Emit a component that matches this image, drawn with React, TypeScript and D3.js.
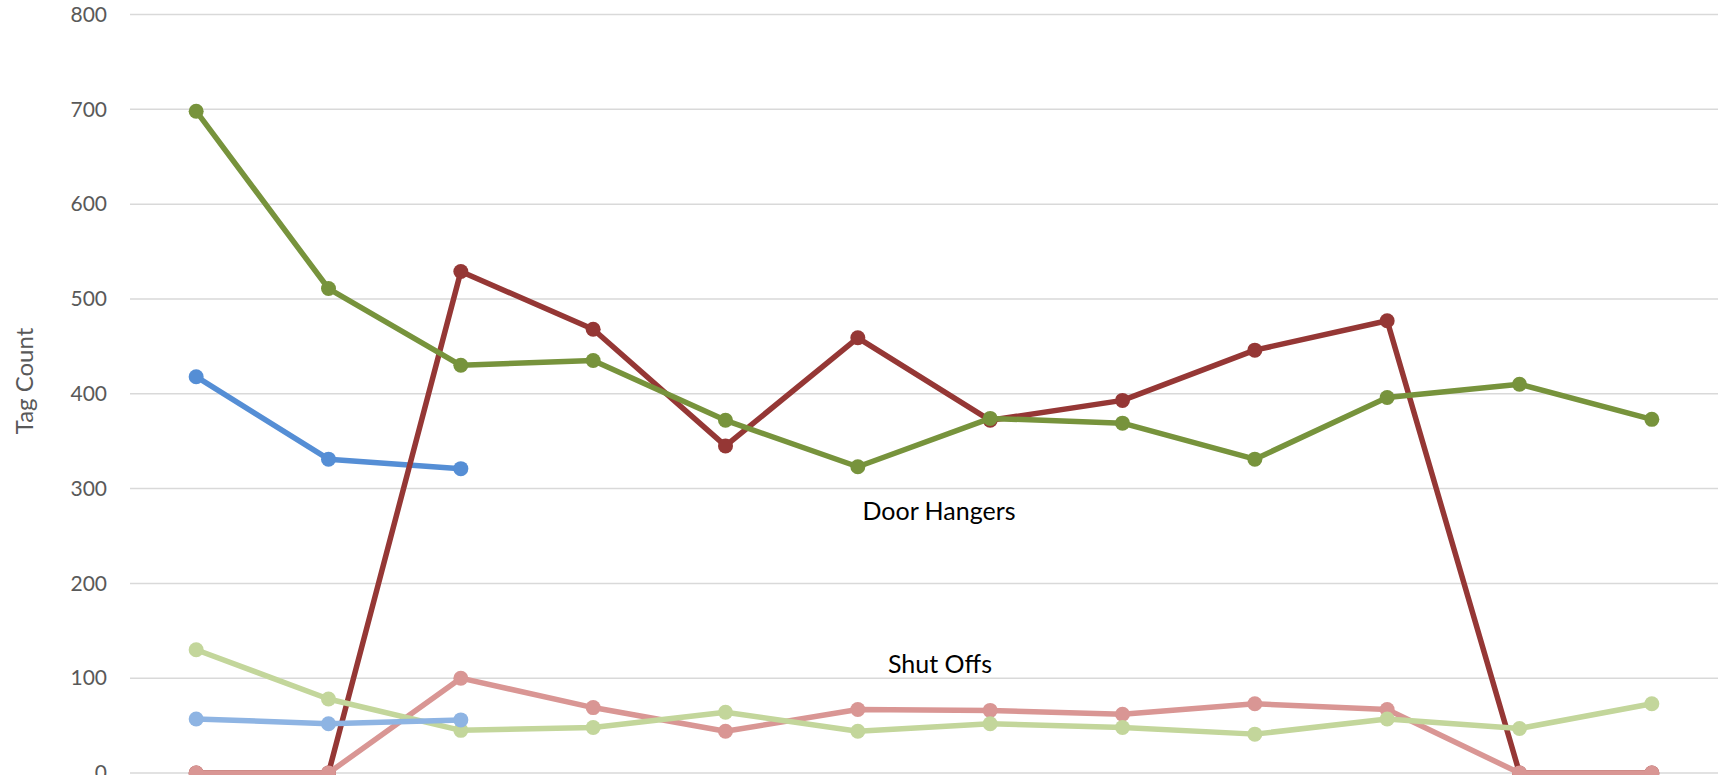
import React, { useRef, useEffect } from "react";
import * as d3 from "d3";

// months along x (axis labels sit below the visible area)
const months = ["Jan", "Feb", "Mar", "Apr", "May", "Jun", "Jul", "Aug", "Sep", "Oct", "Nov", "Dec"];

const yTicks = [0, 100, 200, 300, 400, 500, 600, 700, 800];

const doorHangersA: (number | null)[] = [698, 511, 430, 435, 372, 323, 374, 369, 331, 396, 410, 373];
const doorHangersB: (number | null)[] = [0, 0, 529, 468, 345, 459, 372, 393, 446, 477, 0, 0];
const doorHangersC: (number | null)[] = [418, 331, 321, null, null, null, null, null, null, null, null, null];
const shutOffsA: (number | null)[] = [130, 78, 45, 48, 64, 44, 52, 48, 41, 57, 47, 73];
const shutOffsB: (number | null)[] = [0, 0, 100, 69, 44, 67, 66, 62, 73, 67, 0, 0];
const shutOffsC: (number | null)[] = [57, 52, 56, null, null, null, null, null, null, null, null, null];

const App = () => {
    const canvas = useRef<SVGSVGElement>(null);

    const width = 1733;
    const height = 775;
    const margin = { top: 14.5, right: 15, bottom: 2, left: 130 };
    const font = "Lato, 'Open Sans', sans-serif";

    useEffect(() => {
        const svg = d3.select(canvas.current);
        svg.selectAll("*").remove();

        const xScale = d3.scaleBand<string>().domain(months).range([margin.left, width - margin.right]);
        const yScale = d3.scaleLinear().domain([0, 800]).range([height - margin.bottom, margin.top]);
        const xc = (m: string) => (xScale(m) as number) + xScale.bandwidth() / 2;

        // gridlines
        svg.append("g")
            .selectAll("line")
            .data(yTicks)
            .enter().append("line")
            .attr("x1", margin.left)
            .attr("x2", width - margin.right)
            .attr("y1", (d) => yScale(d))
            .attr("y2", (d) => yScale(d))
            .attr("stroke", "#d9d9d9")
            .attr("stroke-width", 1.5);

        // y axis labels
        const yAxis = d3.axisLeft(yScale).tickValues(yTicks).tickSize(0).tickPadding(23);
        const ya = svg.append("g")
            .attr("transform", "translate(" + margin.left + ",0)")
            .call(yAxis);
        ya.select(".domain").remove();
        ya.selectAll("text")
            .attr("fill", "#595959")
            .style("font-family", font)
            .style("font-size", "21px");

        svg.append("text")
            .attr("transform", "translate(33," + 381 + ") rotate(-90)")
            .attr("text-anchor", "middle")
            .attr("fill", "#595959")
            .style("font-family", font)
            .style("font-size", "24px")
            .text("Tag Count");

        // Door Hangers first (red under green), then Shut Offs on top
        const series = [
            { values: doorHangersC, color: "#558ed5" },
            { values: doorHangersB, color: "#953735" },
            { values: doorHangersA, color: "#77933c" },
            { values: shutOffsB, color: "#d99694" },
            { values: shutOffsA, color: "#c3d69b" },
            { values: shutOffsC, color: "#8eb4e3" },
        ];

        const line = d3.line<[string, number | null]>()
            .defined((d) => d[1] !== null)
            .x((d) => xc(d[0]))
            .y((d) => yScale(d[1] as number));

        series.forEach((s) => {
            const pts: [string, number | null][] = months.map((m, i) => [m, s.values[i]]);
            const g = svg.append("g");
            g.append("path")
                .datum(pts)
                .attr("d", line)
                .attr("fill", "none")
                .attr("stroke", s.color)
                .attr("stroke-width", 5.5)
                .attr("stroke-linejoin", "round");
            g.selectAll("circle")
                .data(pts.filter((d) => d[1] !== null))
                .enter().append("circle")
                .attr("cx", (d) => xc(d[0]))
                .attr("cy", (d) => yScale(d[1] as number))
                .attr("r", 7.5)
                .attr("fill", s.color);
        });

        // series group labels
        svg.append("text")
            .attr("x", 939)
            .attr("y", 520)
            .attr("text-anchor", "middle")
            .style("font-family", font)
            .style("font-size", "25px")
            .text("Door Hangers");
        svg.append("text")
            .attr("x", 940)
            .attr("y", 673)
            .attr("text-anchor", "middle")
            .style("font-family", font)
            .style("font-size", "25px")
            .text("Shut Offs");
    });

    return (
        <svg ref={canvas} width={width} height={height}
            style={{ position: "absolute", left: 0, top: 0, background: "#fff" }}></svg>
    );
};

export default App;
